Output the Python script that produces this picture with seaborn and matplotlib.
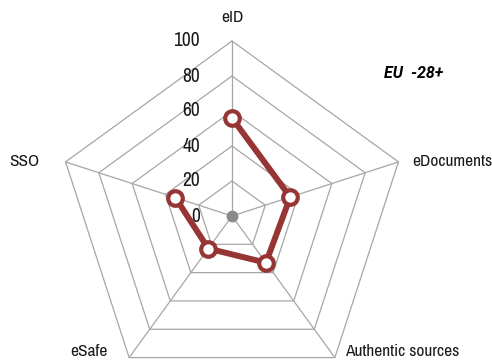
import numpy as np
import pandas as pd
import matplotlib
matplotlib.use("Agg")
import matplotlib.pyplot as plt
from matplotlib import font_manager
import seaborn as sns

categories = ["eID", "eDocuments", "Authentic sources", "eSafe", "SSO"]
values = [56, 35, 33, 23, 34]
ticks = [0, 20, 40, 60, 80, 100]
title = "EU  -28+"

sns.set_theme(style="white")
names = sorted({f.name for f in font_manager.fontManager.ttflist})
cond = [nm for nm in names if ("Narrow" in nm or "Condensed" in nm)]
fam = cond[:1] + ["Roboto", "DejaVu Sans"]
plt.rcParams["font.family"] = fam
narrow = bool(cond)

W, H = 492, 363
fig = plt.figure(figsize=(W / 100, H / 100), dpi=100)
cx, cy, R = 232, 216, 175
ax = fig.add_axes([(cx - R) / W, (H - cy - R) / H, 2 * R / W, 2 * R / H], projection="polar")
ax.set_theta_zero_location("N")
ax.set_theta_direction(-1)
ax.set_ylim(0, 100)
ax.grid(False)
ax.set_xticks([])
ax.set_yticks([])
ax.spines["polar"].set_visible(False)
ax.patch.set_alpha(0)

n = len(categories)
theta = np.arange(n) * 2 * np.pi / n
theta_c = np.append(theta, theta[0])

grid_col = "#a6a6a6"
for t in ticks[1:]:
    ax.plot(theta_c, [t] * (n + 1), color=grid_col, lw=0.9, zorder=1, clip_on=False)
for th in theta:
    ax.plot([th, th], [0, 100], color=grid_col, lw=0.9, zorder=1, clip_on=False)

df = pd.DataFrame({"theta": theta_c, "value": values + [values[0]]})
sns.lineplot(data=df, x="theta", y="value", ax=ax, sort=False, color="#973434",
             lw=4.3, zorder=3, clip_on=False)
ax.plot(theta, values, ls="none", marker="o", ms=10.5, mfc="white", mec="#973434",
        mew=3.0, zorder=4, clip_on=False)
ax.plot([0], [0], marker="o", ms=7.5, color="#8a8a8a", zorder=5, clip_on=False)

fs_tick = 14 if narrow else 12
fs = 12.5 if narrow else 10.8
for t in ticks:
    ax.annotate(str(t), xy=(0, t), xytext=(-32, 0), textcoords="offset pixels",
                ha="right", va="center", fontsize=fs_tick, color="#1a1a1a")

offs = [(0, 23, "center"), (14, 0, "left"), (10, 6, "left"), (-22, 6, "right"), (-26, 0, "right")]
for th, lab, (dx, dy, ha) in zip(theta, categories, offs):
    ax.annotate(lab, xy=(th, 100), xytext=(dx, dy), textcoords="offset pixels",
                ha=ha, va="center", fontsize=fs, color="#1a1a1a", annotation_clip=False)

fig.text(384 / W, 1 - 74 / H, title, ha="left", va="center", fontsize=11.5,
         fontweight="bold", fontstyle="italic", color="black",
         family=["Roboto", "DejaVu Sans"])

ax.set_xlabel("")
ax.set_ylabel("")
fig.savefig("out.png", dpi=100)
